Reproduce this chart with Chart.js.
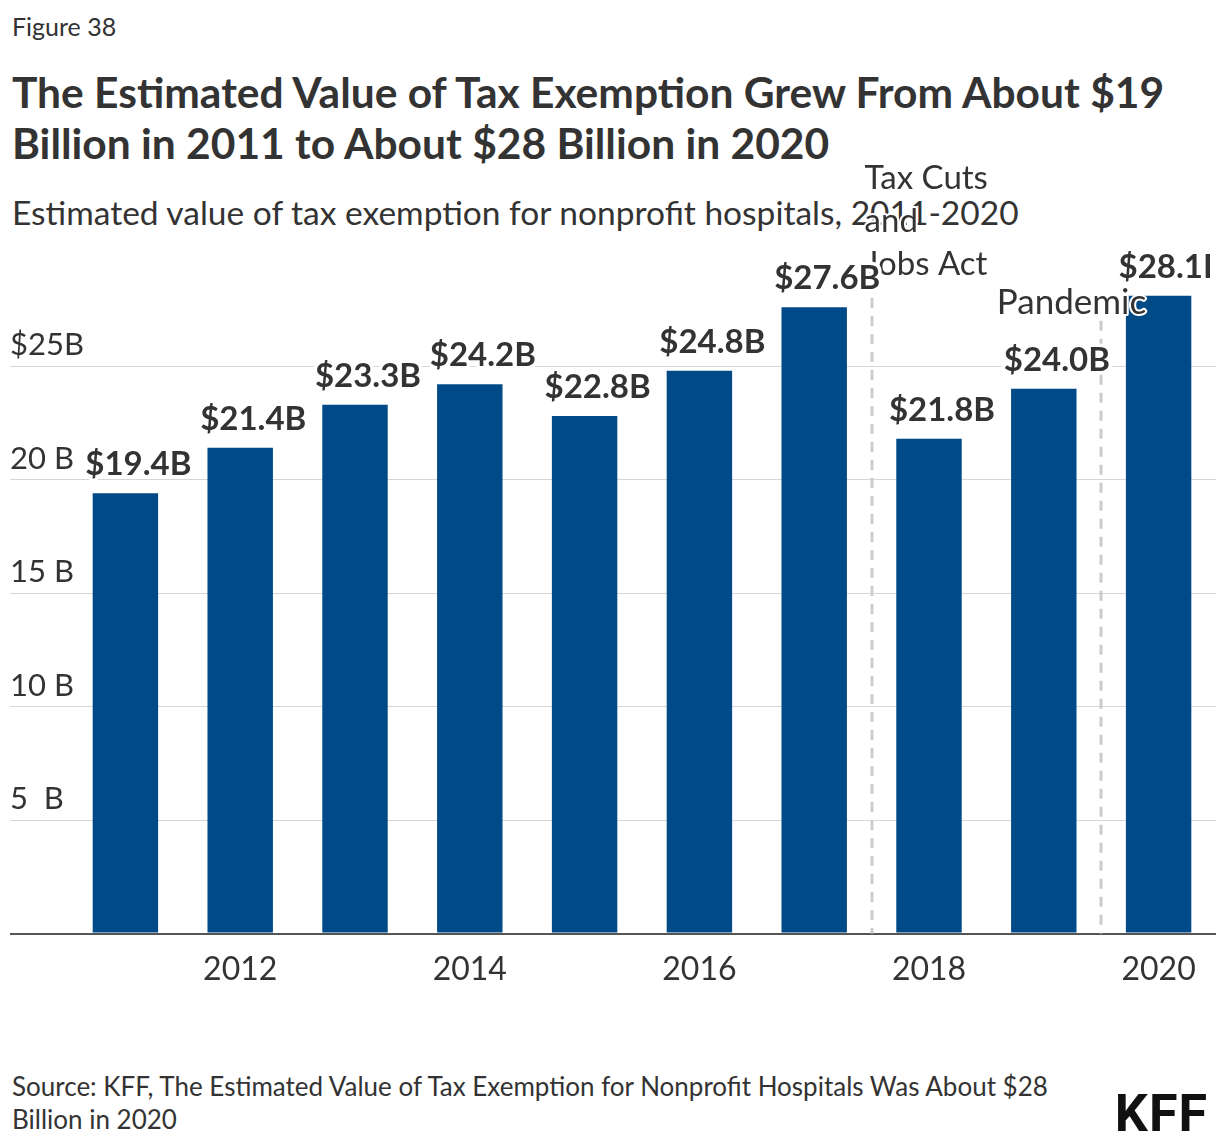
<!DOCTYPE html>
<html>
<head>
<meta charset="utf-8">
<script src="https://cdn.jsdelivr.net/npm/chart.js@4.4.1/dist/chart.umd.min.js"></script>
<style>
  body { margin: 0; background: #fff; font-family: 'Source Sans Pro', Lato, sans-serif; color: #333; }
  #page { position: relative; width: 1220px; height: 1148px; overflow: hidden; }
  .fig { position: absolute; left: 12px; top: 10px; font-size: 25px; line-height: 32px; }
  h1 { position: absolute; left: 12px; top: 66px; margin: 0; font-size: 42.5px; line-height: 51px; font-weight: 700; }
  .sub { position: absolute; left: 12px; top: 192px; font-size: 33.5px; line-height: 40px; white-space: nowrap; }
  #wrap { position: absolute; left: 0; top: 150px; width: 1220px; height: 870px; }
  .src { position: absolute; left: 12px; top: 1070px; font-size: 26px; line-height: 33px; }
  .logo { position: absolute; right: 12px; top: 1088px; font-family: 'Liberation Sans Narrow', 'Roboto', sans-serif; font-weight: 700; font-size: 52px; line-height: 52px; letter-spacing: 1px; color: #111; }
</style>
</head>
<body>
<div id="page">
  <div class="fig">Figure 38</div>
  <h1>The Estimated Value of Tax Exemption Grew From About $19<br>Billion in 2011 to About $28 Billion in 2020</h1>
  <div class="sub">Estimated value of tax exemption for nonprofit hospitals, 2011-2020</div>
  <div id="wrap"><canvas id="chart"></canvas></div>
  <div class="src">Source: KFF, The Estimated Value of Tax Exemption for Nonprofit Hospitals Was About $28<br>Billion in 2020</div>
  <div class="logo">KFF</div>
</div>
<script>
// data
const years = ['2011', '2012', '2013', '2014', '2015', '2016', '2017', '2018', '2019', '2020'];
const values = [19.4, 21.4, 23.3, 24.2, 22.8, 24.8, 27.6, 21.8, 24.0, 28.1];
const yTickLabels = {5: '5  B', 10: '10 B', 15: '15 B', 20: '20 B', 25: '$25B'};
const eventLabels = [['Tax Cuts', 'and', 'Jobs Act'], ['Pandemic']];
const eventAt = [6.5, 8.5];      // between categories
const eventTop = [28.0, 27.0];   // top of dashed line, in B

const BAR = '#004a87';
const TEXT = '#333333';
const FONT = "'Source Sans Pro', Lato, sans-serif";

Chart.defaults.font.family = FONT;
Chart.defaults.color = TEXT;

// where each event label sits, relative to its line
const eventStyle = [
    {align: 'left', dx: -7, y0: 28, size: 33},
    {align: 'right', dx: 45, y0: 153, size: 35}
];

const annotations = {
    id: 'annotations',
    beforeDatasetsDraw(chart) {
        const ctx = chart.ctx;
        const x = chart.scales.x, y = chart.scales.y;
        ctx.save();
        ctx.strokeStyle = '#cccccc';
        ctx.lineWidth = 3;
        ctx.setLineDash([10, 8]);
        eventAt.forEach((at, i) => {
            const px = Math.round(x.getPixelForValue(at));
            ctx.beginPath();
            ctx.moveTo(px, y.getPixelForValue(eventTop[i]));
            ctx.lineTo(px, y.getPixelForValue(0));
            ctx.stroke();
        });
        ctx.restore();
    },
    afterDatasetsDraw(chart) {
        const ctx = chart.ctx;
        const x = chart.scales.x;
        ctx.save();
        ctx.beginPath();
        ctx.rect(0, 0, 1210, chart.height);
        ctx.clip();
        ctx.lineJoin = 'round';

        // event labels
        ctx.textBaseline = 'middle';
        eventAt.forEach((at, i) => {
            const s = eventStyle[i];
            const px = x.getPixelForValue(at) + s.dx;
            ctx.font = s.size + 'px ' + FONT;
            ctx.textAlign = s.align;
            eventLabels[i].forEach((line, j) => {
                const py = s.y0 + j * 43;
                ctx.strokeStyle = '#fff';
                ctx.lineWidth = 4;
                ctx.strokeText(line, px, py);
                ctx.fillStyle = TEXT;
                ctx.fillText(line, px, py);
            });
        });

        // value labels
        ctx.font = 'bold 33px ' + FONT;
        ctx.textAlign = 'center';
        ctx.textBaseline = 'alphabetic';
        const meta = chart.getDatasetMeta(0);
        meta.data.forEach((bar, i) => {
            const txt = '$' + values[i].toFixed(1) + 'B';
            const px = bar.x + 13, py = bar.y - 18;
            ctx.strokeStyle = '#fff';
            ctx.lineWidth = 7;
            ctx.strokeText(txt, px, py);
            ctx.fillStyle = TEXT;
            ctx.fillText(txt, px, py);
        });
        ctx.restore();
    }
};

new Chart(document.getElementById('chart'), {
    type: 'bar',
    data: {
        labels: years,
        datasets: [{
            data: values,
            backgroundColor: BAR,
            barPercentage: 1,
            categoryPercentage: 0.57
        }]
    },
    options: {
        responsive: true,
        maintainAspectRatio: false,
        animation: false,
        layout: {padding: {left: 10, right: 4, top: 114, bottom: 14}},
        plugins: {legend: {display: false}, tooltip: {enabled: false}},
        scales: {
            x: {
                grid: {display: false, drawTicks: false},
                border: {display: false},
                ticks: {
                    autoSkip: false,
                    maxRotation: 0,
                    padding: 17,
                    font: {size: 32},
                    color: TEXT,
                    callback: (v, i) => (i % 2 === 1 ? years[i] : '')
                }
            },
            y: {
                min: 0,
                max: 29.5,
                afterFit(scale) { scale.width = 58; },
                border: {display: false},
                grid: {
                    drawTicks: true,
                    tickLength: 58,
                    color: c => (c.tick && c.tick.value === 0 ? '#555555' : '#d6d6d6'),
                    lineWidth: c => (c.tick && c.tick.value === 0 ? 2 : 1)
                },
                ticks: {
                    stepSize: 5,
                    includeBounds: false,
                    mirror: true,
                    padding: -58,
                    labelOffset: -21,
                    font: {size: 31},
                    color: TEXT,
                    callback: v => yTickLabels[v] || ''
                }
            }
        }
    },
    plugins: [annotations]
});
</script>
</body>
</html>
